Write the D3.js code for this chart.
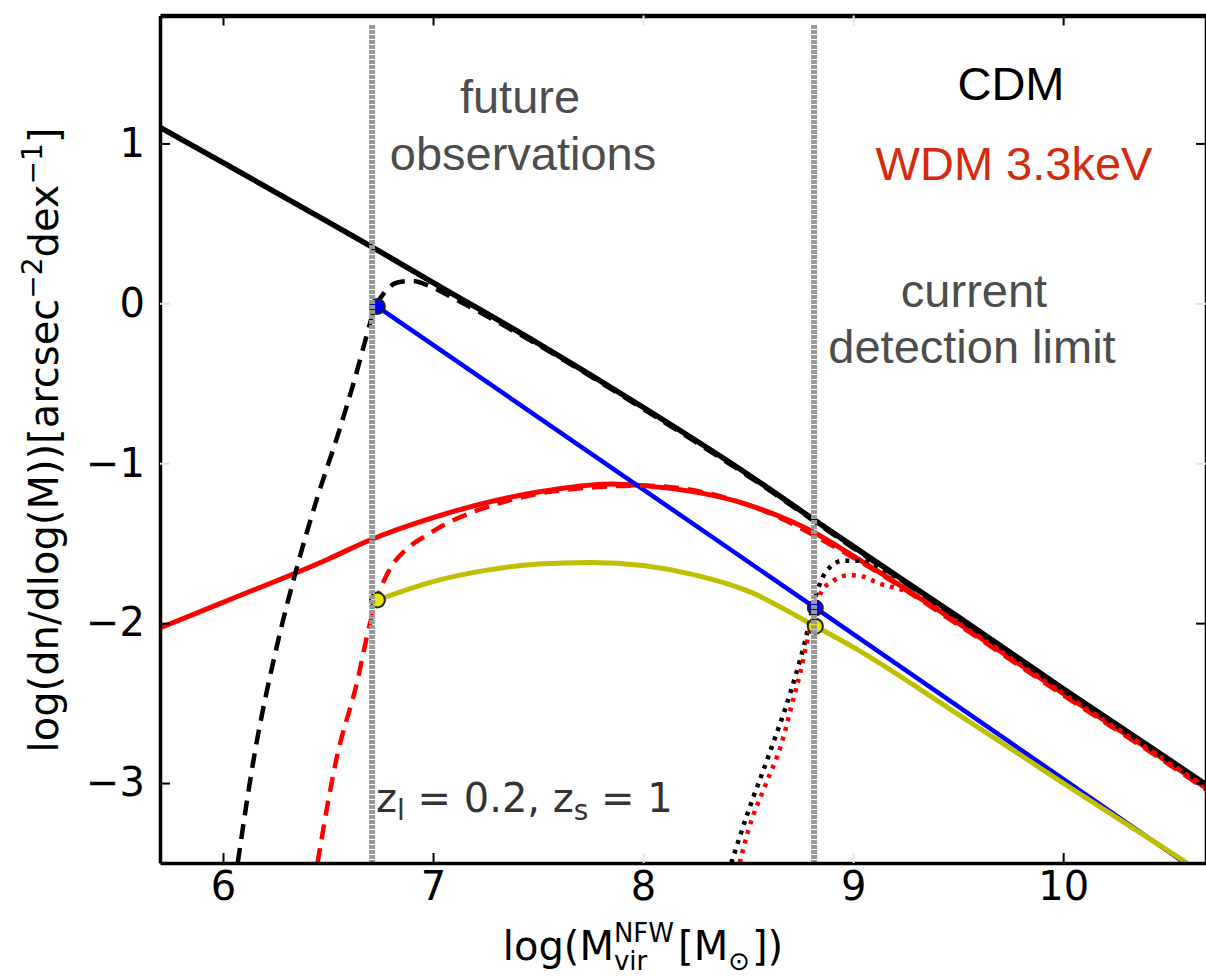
<!DOCTYPE html>
<html lang="en">
<head>
<meta charset="UTF-8" />
<title>Subhalo mass function: CDM vs WDM</title>
<script src="https://d3js.org/d3.v7.min.js"></script>
<style>
  body { margin: 0; background: #fff; }
  svg { display: block; }
  .tick text { font-family: "DejaVu Sans", sans-serif; font-size: 40px; fill: #000; }
  .note { font-family: "Liberation Sans", Arial, sans-serif; font-size: 47px; text-anchor: middle; }
  .math { font-family: "DejaVu Sans", sans-serif; }
</style>
</head>
<body>
<div id="chart"></div>
<script>
var w = 1206, h = 978;

// log10(M_vir) grid and log(dn/dlogM) values
var cdmX = [5.7, 6.0, 6.5, 6.7, 7.0, 7.5, 8.0, 8.5, 8.81, 9.0, 9.5, 10.0, 10.5, 10.68];
var cdmY = [1.10, 0.88, 0.51, 0.36, 0.13, -0.25, -0.65, -1.07, -1.35, -1.52, -1.96, -2.41, -2.85, -3.01];

var wdmX = [5.7, 6.0, 6.5, 6.7, 7.0, 7.5, 7.85, 8.0, 8.5, 8.81, 9.0, 9.5, 10.0, 10.5, 10.68];
var wdmY = [-2.03, -1.87, -1.60, -1.48, -1.34, -1.18, -1.13, -1.14, -1.26, -1.43, -1.58, -2.0, -2.44, -2.87, -3.03];

// CDM, future observations (dashed)
var cdmFutX = [6.07, 6.15, 6.25, 6.35, 6.45, 6.55, 6.63, 6.68, 6.72, 6.77, 6.83, 6.9, 6.98, 7.1, 7.2, 7.5, 8.0, 8.5, 9.0, 9.5, 10.0, 10.5, 10.68];
var cdmFutY = [-3.5, -2.82, -2.18, -1.66, -1.21, -0.81, -0.46, -0.22, -0.04, 0.07, 0.13, 0.14, 0.11, 0.03, -0.04, -0.26, -0.66, -1.08, -1.53, -1.97, -2.42, -2.86, -3.02];

// WDM, future observations (dashed)
var wdmFutX = [6.45, 6.54, 6.64, 6.70, 6.74, 6.8, 6.88, 6.97, 7.06, 7.2, 7.4, 7.6, 8.0, 8.5, 9.0, 9.5, 10.0, 10.5, 10.68];
var wdmFutY = [-3.5, -2.85, -2.36, -2.0, -1.82, -1.65, -1.53, -1.45, -1.38, -1.30, -1.22, -1.17, -1.14, -1.26, -1.59, -2.01, -2.45, -2.88, -3.04];

// CDM, current detection limit (dotted)
var cdmCurX = [8.42, 8.5, 8.6, 8.7, 8.77, 8.82, 8.87, 8.95, 9.05, 9.15, 9.3, 9.5, 10.0, 10.5, 10.68];
var cdmCurY = [-3.5, -3.18, -2.82, -2.44, -2.12, -1.84, -1.68, -1.61, -1.61, -1.67, -1.79, -1.97, -2.42, -2.86, -3.02];

// WDM, current detection limit (dotted)
var wdmCurX = [8.46, 8.5, 8.58, 8.66, 8.71, 8.75, 8.78, 8.81, 8.85, 8.9, 8.98, 9.05, 9.12, 9.25, 9.5, 10.0, 10.5, 10.68];
var wdmCurY = [-3.5, -3.3, -3.02, -2.75, -2.5, -2.3, -2.12, -1.97, -1.8, -1.74, -1.70, -1.71, -1.75, -1.80, -2.0, -2.44, -2.87, -3.03];

// straight power-law fit (blue) and the yellow curve
var fitX = [6.735, 8.82, 10.58];
var fitY = [-0.02, -1.905, -3.5];
var yelX = [6.735, 7.0, 7.25, 7.5, 7.75, 8.0, 8.25, 8.5, 8.82, 9.0, 9.5, 10.0, 10.59];
var yelY = [-1.855, -1.74, -1.67, -1.63, -1.62, -1.64, -1.70, -1.80, -2.02, -2.15, -2.57, -3.0, -3.5];

// detection limits (vertical lines) and marker points
var limits = [6.71, 8.814];
var markX = [6.735, 6.735, 8.82, 8.82];
var markY = [-0.02, -1.855, -1.905, -2.02];
var markC = ["#0000ff", "#e6e600", "#0000ff", "#e6e600"];

var xTicks = [6, 7, 8, 9, 10];
var yTicks = [-3, -2, -1, 0, 1];

var pLeft = 160, pRight = 1206, pTop = 15.5, pBottom = 863;

var svg = d3.select("#chart").append("svg")
  .attr("width", w)
  .attr("height", h);

var x = d3.scaleLinear().domain([5.7, 10.68]).range([pLeft, pRight]);
var y = d3.scaleLinear().domain([-3.5, 1.8]).range([pBottom, pTop]);

svg.append("clipPath").attr("id", "clip")
  .append("rect")
  .attr("x", pLeft).attr("y", pTop)
  .attr("width", pRight - pLeft).attr("height", pBottom - pTop);

function pts(xs, ys) {
  return xs.map(function(v, i) { return [v, ys[i]]; });
}

var line = d3.line()
  .x(function(d) { return x(d[0]); })
  .y(function(d) { return y(d[1]); })
  .curve(d3.curveMonotoneX);

var plot = svg.append("g").attr("clip-path", "url(#clip)");

var series = [
  { xs: cdmX, ys: cdmY, color: "#000", width: 5.5, dash: null },
  { xs: wdmX, ys: wdmY, color: "#ff0000", width: 5, dash: null },
  { xs: fitX, ys: fitY, color: "#0000ff", width: 4.5, dash: null },
  { xs: yelX, ys: yelY, color: "#bfbf00", width: 5, dash: null },
  { xs: cdmFutX, ys: cdmFutY, color: "#000", width: 4.5, dash: "15,9" },
  { xs: wdmFutX, ys: wdmFutY, color: "#ff0000", width: 4.5, dash: "15,9" },
  { xs: cdmCurX, ys: cdmCurY, color: "#000", width: 4.5, dash: "4,6" },
  { xs: wdmCurX, ys: wdmCurY, color: "#ff0000", width: 4.5, dash: "4,6" }
];

series.forEach(function(s) {
  plot.append("path")
    .datum(pts(s.xs, s.ys))
    .attr("d", line)
    .attr("fill", "none")
    .attr("stroke", s.color)
    .attr("stroke-width", s.width)
    .attr("stroke-dasharray", s.dash);
});

plot.selectAll("circle.mark")
  .data(pts(markX, markY))
  .enter()
  .append("circle")
  .attr("class", "mark")
  .attr("cx", function(d) { return x(d[0]); })
  .attr("cy", function(d) { return y(d[1]); })
  .attr("r", 7.5)
  .attr("fill", function(d, i) { return markC[i]; })
  .attr("stroke", "#222")
  .attr("stroke-width", 2);

// gray limit lines
svg.selectAll("line.limit")
  .data(limits)
  .enter()
  .append("line")
  .attr("class", "limit")
  .attr("x1", function(d) { return x(d); })
  .attr("x2", function(d) { return x(d); })
  .attr("y1", 25)
  .attr("y2", pBottom)
  .attr("stroke", "#999")
  .attr("stroke-width", 6)
  .attr("stroke-dasharray", "4,1");

// axes
function minus(d) { return d < 0 ? "\u2212" + Math.abs(d) : "" + d; }
var faintX = [8, 9], faintY = [0, -1];

var xAxis = svg.append("g")
  .attr("transform", "translate(0," + pBottom + ")")
  .call(d3.axisBottom(x).tickValues(xTicks).tickSizeInner(-10).tickSizeOuter(0).tickPadding(9).tickFormat(minus));
var xTop = svg.append("g")
  .attr("transform", "translate(0," + pTop + ")")
  .call(d3.axisTop(x).tickValues(xTicks).tickSizeInner(-10).tickSizeOuter(0).tickFormat(""));
var yAxis = svg.append("g")
  .attr("transform", "translate(" + pLeft + ",0)")
  .call(d3.axisLeft(y).tickValues(yTicks).tickSizeInner(-10).tickSizeOuter(0).tickPadding(15).tickFormat(minus));
var yRight = svg.append("g")
  .attr("transform", "translate(" + pRight + ",0)")
  .call(d3.axisRight(y).tickValues(yTicks).tickSizeInner(-10).tickSizeOuter(0).tickFormat(""));

[xAxis, xTop].forEach(function(g) {
  g.selectAll(".tick line").attr("stroke-width", 2)
    .attr("stroke", function(d) { return faintX.indexOf(d) >= 0 ? "#e4e4e4" : "#000"; });
});
[yAxis, yRight].forEach(function(g) {
  g.selectAll(".tick line").attr("stroke-width", 2)
    .attr("stroke", function(d) { return faintY.indexOf(d) >= 0 ? "#e4e4e4" : "#000"; });
});
xAxis.select(".domain").attr("stroke-width", 3.5);
yAxis.select(".domain").attr("stroke-width", 3.5);
xTop.select(".domain").attr("stroke-width", 4.5);
yRight.select(".domain").attr("stroke-width", 3.5);
svg.selectAll(".tick text").attr("font-family", null).attr("font-size", null);

// annotations
var notes = svg.append("g").attr("class", "note");
notes.append("text").attr("x", 520).attr("y", 113).attr("fill", "#4d4d4d").text("future");
notes.append("text").attr("x", 523).attr("y", 170).attr("fill", "#4d4d4d").text("observations");
notes.append("text").attr("x", 1011).attr("y", 100).attr("fill", "#000").text("CDM");
notes.append("text").attr("x", 1014).attr("y", 180).attr("fill", "#d42a10").text("WDM 3.3keV");
notes.append("text").attr("x", 974).attr("y", 307).attr("fill", "#4d4d4d").text("current");
notes.append("text").attr("x", 972).attr("y", 363).attr("fill", "#4d4d4d").text("detection limit");

var zt = svg.append("text").attr("class", "math")
  .attr("x", 376).attr("y", 812)
  .attr("font-size", 40).attr("fill", "#333");
zt.append("tspan").text("z");
zt.append("tspan").attr("font-size", 28).attr("dy", 8).text("l");
zt.append("tspan").attr("dy", -8).text(" = 0.2, z");
zt.append("tspan").attr("font-size", 28).attr("dy", 8).text("s");
zt.append("tspan").attr("dy", -8).text(" = 1");

// y label
var yl = svg.append("text").attr("class", "math")
  .attr("transform", "translate(58,440) rotate(-90)")
  .attr("text-anchor", "middle")
  .attr("font-size", 40).attr("fill", "#000");
yl.append("tspan").text("log(dn/dlog(M))[arcsec");
yl.append("tspan").attr("font-size", 28).attr("dy", -16).text("\u22122");
yl.append("tspan").attr("dy", 16).text("dex");
yl.append("tspan").attr("font-size", 28).attr("dy", -16).text("\u22121");
yl.append("tspan").attr("dy", 16).text("]");

// x label, pieces laid out by measured width
var xl = svg.append("g").attr("class", "math").attr("font-size", 40);
var bx = 0, base = 960;
function piece(str, size, dy) {
  var t = xl.append("text").attr("x", bx).attr("y", base + dy)
    .attr("font-size", size).text(str);
  return t.node().getComputedTextLength();
}
bx += piece("log(M", 40, 0);
var wa = piece("NFW", 26, -18);
var wb = piece("vir", 26, 10);
bx += Math.max(wa, wb) + 4;
bx += piece("[M", 40, 0);
bx += piece("\u2299", 26, 10) + 2;
bx += piece("])", 40, 0);
xl.attr("transform", "translate(" + (643 - bx / 2) + ",0)");
</script>
</body>
</html>
